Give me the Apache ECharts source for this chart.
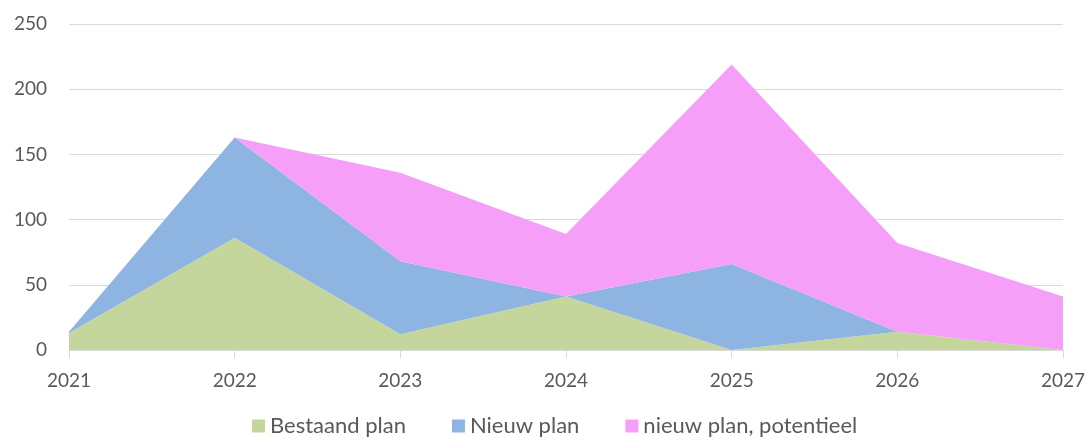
<!DOCTYPE html>
<html>
<head>
<meta charset="utf-8">
<script src="https://cdn.jsdelivr.net/npm/echarts@6/dist/echarts.min.js"></script>
<style>
  html, body { margin: 0; padding: 0; background: #fff; }
  #chart { width: 1089px; height: 441px; }
</style>
</head>
<body>
<div id="chart"></div>
<script>
// jaren op de x-as
var years = ["2021", "2022", "2023", "2024", "2025", "2026", "2027"];

// gestapelde waarden
var bestaandPlan = [13, 86, 12, 41, 0, 14, 0];
var nieuwPlan = [1, 77, 56, 0, 66, 0, 0];
var nieuwPlanPotentieel = [0, 0, 68, 48, 153, 68, 41];

var textColor = "#595959";
var fontName = "Lato";

function makeSeries(name, data, color) {
	return {
		name: name,
		type: "line",
		stack: "totaal",
		data: data,
		symbol: "none",
		lineStyle: { width: 0 },
		itemStyle: { color: color },
		areaStyle: { color: color, opacity: 1 },
		emphasis: { disabled: true }
	};
}

var chart = echarts.init(document.getElementById("chart"));

chart.setOption({
	animation: false,
	textStyle: { fontFamily: fontName },
	grid: {
		left: 69,
		right: 26,
		top: 24,
		bottom: 91
	},
	legend: {
		top: 413,
		left: 252,
		padding: 0,
		itemWidth: 13,
		itemHeight: 13,
		itemGap: 46,
		icon: "rect",
		textStyle: { color: textColor, fontSize: 22, lineHeight: 26, fontFamily: fontName },
		data: ["Bestaand plan", "Nieuw plan", "nieuw plan, potentieel"]
	},
	xAxis: {
		type: "category",
		data: years,
		boundaryGap: false,
		axisLine: { lineStyle: { color: "#d9d9d9", width: 1 } },
		axisTick: { show: true, length: 8, lineStyle: { color: "#d9d9d9" } },
		axisLabel: { color: textColor, fontSize: 19, margin: 21 },
		splitLine: { show: false }
	},
	yAxis: {
		type: "value",
		min: 0,
		max: 250,
		interval: 50,
		axisLine: { show: false },
		axisTick: { show: false },
		axisLabel: { color: textColor, fontSize: 19, margin: 22 },
		splitLine: { lineStyle: { color: "#d9d9d9", width: 1 } }
	},
	series: [
		makeSeries("Bestaand plan", bestaandPlan, "#c4d69b"),
		makeSeries("Nieuw plan", nieuwPlan, "#8eb4e2"),
		makeSeries("nieuw plan, potentieel", nieuwPlanPotentieel, "#f59ff8")
	]
});
</script>
</body>
</html>
